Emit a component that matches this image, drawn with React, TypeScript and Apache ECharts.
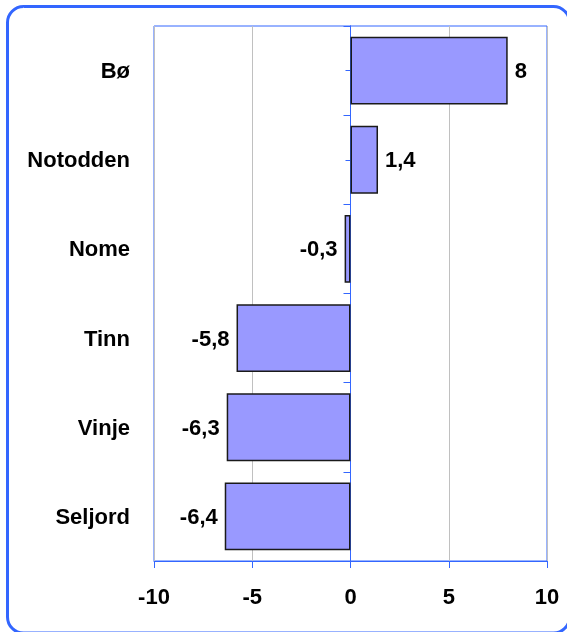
import React, { useEffect, useRef } from "react";
import * as echarts from "echarts";

const categories = ["Bø", "Notodden", "Nome", "Tinn", "Vinje", "Seljord"];
const values = [8, 1.4, -0.3, -5.8, -6.3, -6.4];
const xTicks = [-10, -5, 0, 5, 10];

const BLUE = "#3366ff";
const FONT = "'Liberation Sans', Arial, sans-serif";
const FS = 22;

export default function App() {
  const ref = useRef<HTMLDivElement>(null);
  useEffect(() => {
    if (!ref.current) return;
    const chart = echarts.init(ref.current, undefined, { renderer: "svg" });
    const fmt = (v: number) => String(v).replace(".", ",");
    const gridBox = { left: 154, right: 20, top: 26, bottom: 71 };
    const xMin = xTicks[0];
    const xMax = xTicks[xTicks.length - 1];
    chart.setOption({
      animation: false,
      textStyle: { fontFamily: FONT },
      graphic: [
        {
          type: "rect",
          shape: { x: 7.5, y: 6.5, width: 562, height: 626.5, r: 16 },
          style: { fill: "none", stroke: BLUE, lineWidth: 3 },
          silent: true,
          z: 100,
        },
      ],
      grid: [
        {
          ...gridBox,
          show: true,
          borderColor: BLUE,
          borderWidth: 1,
          backgroundColor: "#ffffff",
        },
        { ...gridBox, show: false },
      ],
      xAxis: [
        {
          type: "value",
          gridIndex: 0,
          min: xMin,
          max: xMax,
          interval: 5,
          position: "bottom",
          axisLine: { show: true, onZero: false, lineStyle: { color: BLUE, width: 1 } },
          axisTick: { show: true, length: 7, inside: false, lineStyle: { color: BLUE } },
          splitLine: { show: true, lineStyle: { color: "#c0c0c0", width: 1 } },
          axisLabel: {
            color: "#000",
            fontWeight: "bold",
            fontSize: FS,
            fontFamily: FONT,
            margin: 24,
            formatter: (v: number) => fmt(v),
          },
        },
        {
          type: "value",
          gridIndex: 1,
          min: xMin,
          max: xMax,
          interval: 5,
          show: false,
        },
      ],
      yAxis: [
        {
          type: "category",
          gridIndex: 0,
          data: categories,
          inverse: true,
          position: "left",
          axisLine: { show: false, onZero: false },
          axisTick: { show: false },
          axisLabel: {
            color: "#000",
            fontWeight: "bold",
            fontSize: FS,
            fontFamily: FONT,
            margin: 24,
          },
        },
        {
          type: "category",
          gridIndex: 0,
          data: categories,
          inverse: true,
          position: "right",
          axisLine: { show: true, onZero: true, lineStyle: { color: BLUE, width: 1 } },
          axisTick: {
            show: true,
            length: 7,
            inside: true,
            interval: 0,
            alignWithLabel: false,
            lineStyle: { color: BLUE },
          },
          axisLabel: { show: false },
          splitLine: { show: false },
        },
        {
          type: "category",
          gridIndex: 1,
          data: categories,
          inverse: true,
          position: "right",
          axisLine: { show: true, onZero: true, lineStyle: { color: BLUE, width: 1 } },
          axisTick: {
            show: true,
            length: 5,
            inside: true,
            interval: 0,
            alignWithLabel: true,
            lineStyle: { color: BLUE },
          },
          axisLabel: { show: false },
          splitLine: { show: false },
        },
      ],
      series: [
        {
          type: "bar",
          xAxisIndex: 0,
          yAxisIndex: 0,
          barCategoryGap: "24%",
          data: values.map((v) => ({
            value: v,
            label: { position: v >= 0 ? "right" : "left" },
          })),
          itemStyle: { color: "#9999ff", borderColor: "#1a1a1a", borderWidth: 1.5 },
          label: {
            show: true,
            distance: 7,
            color: "#000",
            fontWeight: "bold",
            fontSize: FS,
            fontFamily: FONT,
            formatter: (p: any) => fmt(p.value),
          },
        },
      ],
    });
    return () => chart.dispose();
  }, []);
  return (
    <div
      ref={ref}
      style={{ position: "fixed", left: 0, top: 0, width: 567, height: 632 }}
    />
  );
}
